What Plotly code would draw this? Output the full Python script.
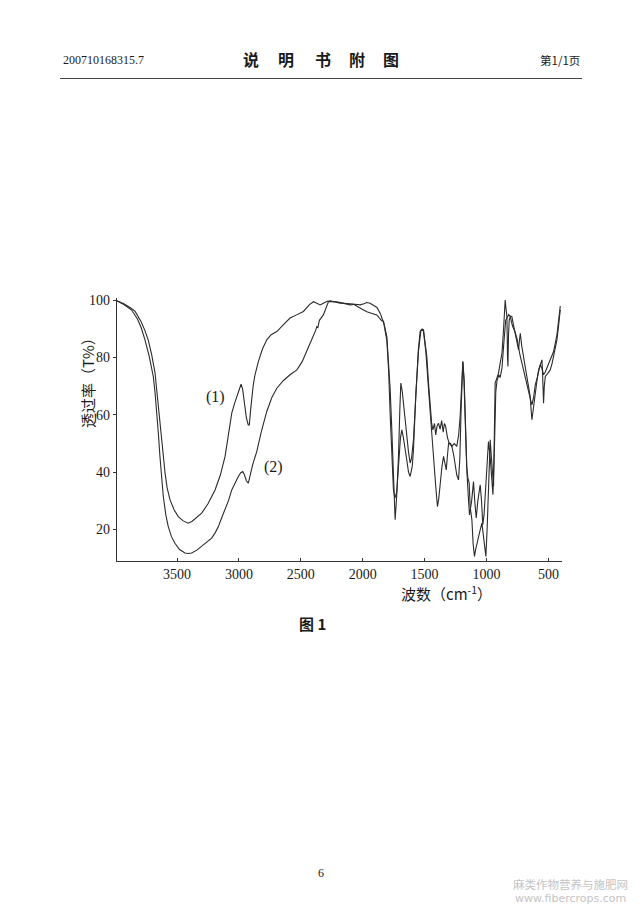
import plotly.graph_objects as go

# ---------------- data ----------------
wn1 = [3985, 3930, 3880, 3840, 3790, 3760, 3732, 3705, 3678, 3665, 3652, 3638, 3624, 3610, 3597, 3580,
       3557, 3525, 3490, 3450, 3410, 3380, 3340, 3301, 3250, 3193, 3150, 3112, 3085, 3058, 3035, 3018,
       3000, 2983, 2970, 2955, 2940, 2925, 2916, 2905, 2895, 2884, 2870, 2843, 2810, 2775, 2740, 2694,
       2640, 2587, 2530, 2479, 2430, 2398, 2370, 2344, 2318, 2290, 2263, 2220, 2183, 2130, 2075, 2030,
       2000, 1967, 1930, 1886, 1850, 1832, 1805, 1790, 1778, 1765, 1757, 1745, 1738, 1725, 1711, 1700,
       1692, 1680, 1671, 1655, 1644, 1630, 1617, 1605, 1590, 1575, 1563, 1550, 1536, 1520, 1509, 1495,
       1482, 1468, 1455, 1443, 1433, 1420, 1410, 1400, 1388, 1375, 1362, 1350, 1340, 1330, 1315, 1300,
       1280, 1260, 1240, 1225, 1213, 1200, 1191, 1182, 1173, 1160, 1150, 1140, 1132, 1118, 1108, 1097,
       1088, 1078, 1065, 1051, 1037, 1024, 1012, 1005, 995, 984, 975, 970, 960, 950, 943, 936, 930, 915,
       903, 890, 875, 862, 849, 842, 835, 830, 827, 822, 816, 805, 795, 780, 768, 755, 741, 734, 727, 715,
       701, 687, 673, 660, 647, 640, 633, 625, 615, 606, 592, 579, 565, 552, 545, 539, 533, 525, 505, 485,
       470, 458, 445, 431, 418, 404]
t1 = [99.8, 98.8, 97.5, 96.2, 92.5, 89.5, 86.0, 81.0, 74.7, 69.0, 62.9, 57.0, 51.3, 45.0, 39.8, 34.5,
      30.4, 27.0, 24.5, 23.0, 22.2, 22.8, 24.3, 25.7, 29.0, 33.8, 39.0, 45.5, 53.0, 60.6, 64.0, 66.4,
      69.0, 70.7, 69.0, 64.0, 59.0, 56.5, 56.5, 62.0, 67.0, 70.5, 74.0, 78.6, 83.0, 86.2, 88.0, 89.1,
      91.5, 93.8, 95.0, 96.1, 98.5, 99.5, 99.0, 98.4, 99.0, 99.6, 99.8, 99.5, 99.0, 98.9, 98.7, 97.5,
      96.8, 96.0, 95.5, 94.9, 93.0, 92.6, 87.3, 78.0, 68.7, 55.0, 45.5, 30.0, 23.4, 32.0, 45.5, 62.0,
      71.1, 68.0, 64.1, 57.0, 52.4, 47.0, 43.2, 45.0, 51.3, 63.0, 74.6, 83.0, 89.1, 90.0, 89.7, 85.0,
      80.4, 71.0, 62.9, 57.0, 54.8, 57.0, 53.0, 56.0, 57.1, 55.0, 58.0, 54.0, 57.0, 56.0, 52.0, 50.0,
      49.0, 50.0, 49.0, 53.0, 59.4, 70.0, 78.6, 72.0, 62.0, 42.0, 38.0, 36.2, 28.0, 23.4, 15.0, 10.6,
      13.0, 15.2, 18.0, 19.9, 22.2, 17.6, 12.0, 10.6, 20.0, 31.5, 45.0, 51.3, 45.0, 38.0, 35.0, 55.0,
      71.1, 73.0, 74.6, 78.0, 81.5, 90.0, 100.1, 97.0, 94.3, 80.0, 76.9, 88.0, 93.2, 94.5, 94.3, 91.0,
      88.5, 85.0, 82.7, 86.0, 88.5, 84.0, 80.4, 78.0, 74.6, 70.0, 66.4, 62.0, 58.3, 61.0, 65.0, 68.7,
      72.0, 75.7, 78.0, 79.2, 72.0, 64.1, 70.0, 73.4, 74.5, 75.7, 78.0, 80.4, 83.0, 86.2, 91.0, 96.7]

wn2 = [3985, 3930, 3867, 3820, 3790, 3759, 3725, 3692, 3678, 3665, 3650, 3638, 3625, 3611, 3590, 3571,
       3545, 3517, 3480, 3436, 3410, 3382, 3340, 3301, 3260, 3220, 3190, 3166, 3140, 3112, 3085, 3058,
       3030, 3005, 2985, 2969, 2955, 2940, 2924, 2910, 2890, 2856, 2820, 2775, 2735, 2694, 2640, 2587,
       2560, 2532, 2490, 2451, 2410, 2380, 2371, 2362, 2350, 2318, 2295, 2277, 2250, 2210, 2160, 2102,
       2060, 2021, 1990, 1967, 1940, 1913, 1885, 1859, 1830, 1805, 1790, 1778, 1765, 1752, 1740, 1725,
       1711, 1695, 1684, 1671, 1650, 1630, 1617, 1600, 1590, 1570, 1550, 1530, 1510, 1490, 1470, 1455,
       1440, 1428, 1410, 1396, 1385, 1375, 1360, 1347, 1335, 1325, 1315, 1306, 1290, 1280, 1265, 1253,
       1240, 1226, 1215, 1205, 1191, 1180, 1170, 1158, 1145, 1137, 1120, 1105, 1095, 1083, 1070, 1051,
       1040, 1030, 1020, 1005, 990, 984, 970, 960, 948, 935, 925, 915, 900, 890, 875, 860, 845, 835, 820,
       808, 790, 770, 754, 730, 700, 670, 647, 633, 620, 606, 590, 566, 550, 539, 525, 512, 485, 458,
       431, 404]
t2 = [99.8, 98.5, 96.6, 93.5, 90.5, 86.2, 80.5, 73.4, 68.0, 61.8, 53.0, 45.5, 38.0, 31.5, 25.0, 21.0,
      17.5, 15.2, 13.0, 11.8, 11.6, 11.8, 12.8, 14.1, 15.5, 17.0, 19.0, 21.0, 24.0, 26.9, 30.0, 33.8,
      36.5, 38.5, 39.8, 40.2, 39.0, 37.0, 36.2, 39.0, 42.5, 47.2, 54.0, 61.2, 66.0, 69.3, 72.0, 74.0,
      75.0, 75.7, 78.5, 82.1, 86.5, 89.5, 90.8, 90.5, 93.0, 94.9, 97.5, 99.5, 99.6, 99.5, 99.0, 98.4,
      98.6, 98.4, 98.8, 99.2, 99.0, 98.4, 97.5, 95.5, 92.0, 86.0, 75.0, 60.0, 45.0, 34.0, 31.0, 33.0,
      42.0, 52.0, 54.8, 52.0, 46.0, 40.0, 38.5, 42.0, 47.8, 68.0, 82.0, 89.5, 89.5, 82.0, 70.0, 60.0,
      50.0, 45.5, 35.0, 28.0, 31.0, 36.2, 42.0, 45.5, 43.0, 40.8, 46.0, 50.1, 50.0, 49.0, 46.0, 43.2,
      39.0, 37.3, 45.0, 62.0, 78.6, 72.0, 55.0, 40.0, 30.0, 25.1, 30.0, 36.7, 30.0, 24.0, 30.0, 35.6,
      30.0, 21.6, 25.0, 35.0, 45.0, 50.7, 45.0, 38.0, 32.1, 50.0, 68.0, 72.0, 74.0, 73.0, 76.3, 85.0,
      93.0, 93.8, 95.0, 94.3, 91.0, 89.0, 86.8, 81.0, 75.0, 70.0, 65.8, 63.5, 66.0, 70.5, 73.0, 77.5,
      76.0, 74.0, 75.0, 76.3, 79.0, 82.1, 87.9, 98.0]

x_ticks = [3500, 3000, 2500, 2000, 1500, 1000, 500]
y_ticks = [20, 40, 60, 80, 100]

# ---------------- layout geometry (page pixels) ----------------
OFF = 8                      # default body margin of the html page
W, H = 639 - OFF, 910 - OFF  # figure size
L, R, T, B = 117, 562, 298, 561  # plot area in page pixels


def px(x):
    return (x - L) / (R - L)


def py(y):
    return (B - y) / (B - T)


fig = go.Figure()
line_style = dict(color="#2b2b2b", width=1.1)
fig.add_trace(go.Scatter(x=wn1, y=t1, mode="lines", line=line_style, name="(1)", hoverinfo="skip"))
fig.add_trace(go.Scatter(x=wn2, y=t2, mode="lines", line=line_style, name="(2)", hoverinfo="skip"))

serif = "Liberation Serif, DejaVu Serif, serif"
cjk = "Noto Sans CJK SC, sans-serif"

fig.update_layout(
    width=W, height=H,
    margin=dict(l=L - OFF, r=W + OFF - R, t=T - OFF, b=H + OFF - B, pad=0),
    paper_bgcolor="white", plot_bgcolor="white",
    showlegend=False,
    xaxis=dict(range=[3985, 390], tickvals=x_ticks, ticktext=[str(v) for v in x_ticks],
               showgrid=False, zeroline=False, showline=True, linecolor="#333", linewidth=1.2,
               ticks="inside", ticklen=3, tickcolor="#333",
               tickfont=dict(family=serif, size=14, color="#1a1a1a")),
    yaxis=dict(range=[9, 100.8], tickvals=y_ticks, ticktext=[str(v) for v in y_ticks],
               showgrid=False, zeroline=False, showline=True, linecolor="#333", linewidth=1.2,
               ticks="outside", ticklen=3, tickcolor="#333",
               tickfont=dict(family=serif, size=14, color="#1a1a1a")),
)


def note(x, y, text, size, family, color="#1a1a1a", xanchor="center", angle=0):
    return dict(x=px(x), y=py(y), xref="paper", yref="paper", text=text, showarrow=False,
                xanchor=xanchor, yanchor="middle", textangle=angle,
                font=dict(family=family, size=size, color=color))


ann = []
# curve labels
ann.append(dict(x=3193, y=66.3, xref="x", yref="y", text="(1)", showarrow=False,
                xanchor="center", yanchor="middle",
                font=dict(family=serif, size=16, color="#1a1a1a")))
ann.append(dict(x=2724, y=41.9, xref="x", yref="y", text="(2)", showarrow=False,
                xanchor="center", yanchor="middle",
                font=dict(family=serif, size=16, color="#1a1a1a")))
# axis titles
ann.append(note(87, 379, "透过率（T%）", 15, cjk, angle=-90))
ann.append(note(446, 593, "波数（cm<sup>-1</sup>）", 15, cjk))
# caption
ann.append(note(312, 623, "<b>图 1</b>", 15, cjk))
# header
ann.append(note(61, 59.5, "200710168315.7", 12, serif, xanchor="left"))
for ch, cx in zip(["说", "明", "书", "附", "图"], [251, 286, 323, 357, 391]):
    ann.append(note(cx, 59, "<b>" + ch + "</b>", 16, cjk))
ann.append(note(582, 59.5, "第1/1页", 11.5, cjk, xanchor="right"))
# page number
ann.append(note(321, 873, "6", 12, serif))
# watermark
ann.append(note(570, 884, "麻类作物营养与施肥网", 11.5, cjk, color="#c4c4c4"))
ann.append(note(570, 898, "www.fibercrops.com", 11, "DejaVu Sans, sans-serif", color="#c4c4c4"))
fig.update_layout(annotations=ann)

fig.add_shape(type="line", xref="paper", yref="paper", x0=px(60), x1=px(582), y0=py(78.5), y1=py(78.5),
              line=dict(color="#444", width=1.2))

fig.write_html("out.html")
